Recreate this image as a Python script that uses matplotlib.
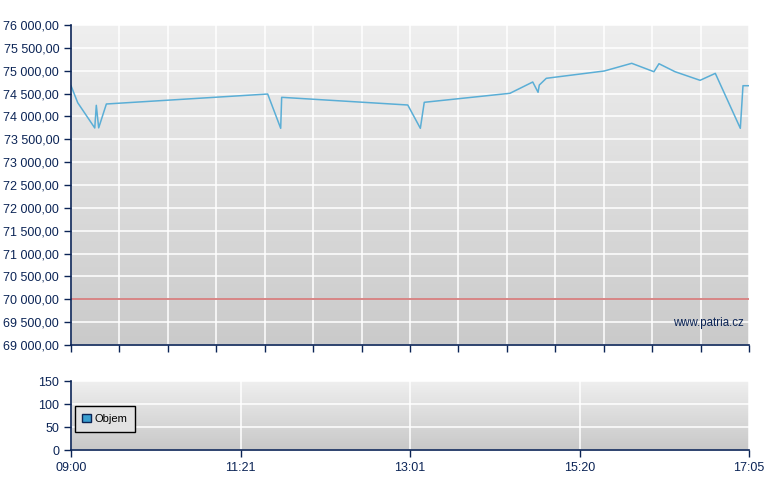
import numpy as np
import matplotlib
matplotlib.use("Agg")
import matplotlib.pyplot as plt
from matplotlib.patches import Patch
from matplotlib.ticker import FuncFormatter

# minutes since 09:00 on the chart's (index-like) time scale, 0..485
t = [0, 4.8, 17.0, 18.1, 19.8, 25.3, 140.7, 150.0, 150.7, 240.9, 249.9, 252.7,
     314.0, 330.3, 334.1, 335.0, 340.0, 381.5, 401.1, 417.0, 420.6, 432.1,
     450.0, 460.9, 478.8, 480.7, 485]
price = [74672, 74300, 73747, 74243, 73750, 74272, 74490, 73740, 74418, 74250,
         73740, 74309, 74506, 74753, 74528, 74687, 74834, 74994, 75162, 74978,
         75153, 74978, 74790, 74942, 73740, 74672, 74672]
ref_level = 70000
vol_ticks_pos = [0, 121.25, 242.5, 363.75, 485]
vol_tick_labels = ["09:00", "11:21", "13:01", "15:20", "17:05"]

navy = "#0b2456"
plt.rcParams['font.family'] = ['Liberation Sans', 'DejaVu Sans']

fig = plt.figure(figsize=(7.8, 4.9), dpi=100)
ax = fig.add_axes([71 / 780, 1 - 345 / 490, 678 / 780, 320 / 490])
axv = fig.add_axes([71 / 780, 1 - 450 / 490, 678 / 780, 69 / 490])


def style(a, top, bottom):
    grad = np.linspace(0, 1, 256).reshape(-1, 1)
    cmap = matplotlib.colors.LinearSegmentedColormap.from_list("g", [top, bottom])
    a.imshow(grad, aspect="auto", cmap=cmap, extent=[0, 1, 0, 1],
             transform=a.transAxes, zorder=0)
    for s in ["top", "right"]:
        a.spines[s].set_visible(False)
    for s in ["left", "bottom"]:
        a.spines[s].set_color(navy)
        a.spines[s].set_linewidth(1.2)
        a.spines[s].set_zorder(5)
    a.tick_params(colors=navy, labelcolor=navy, labelsize=9, length=5, width=1)
    a.grid(True, color="white", linewidth=1.1)
    a.set_axisbelow(True)


style(ax, "#efefef", "#cacaca")
ax.axhline(ref_level, color="#d47c7c", linewidth=1.3, zorder=3)
ax.plot(t, price, color="#5aaed6", linewidth=1.1, zorder=4)
ax.set_xlim(0, 485)
ax.set_ylim(69000, 76000)
ax.set_yticks(np.arange(69000, 76001, 500))
ax.yaxis.set_major_formatter(FuncFormatter(
    lambda v, p: f"{v:,.2f}".replace(",", " ").replace(".", ",")))
ax.set_xticks(np.linspace(0, 485, 15))
ax.set_xticklabels([])
ax.text(0.992, 0.068, "www.patria.cz", transform=ax.transAxes, ha="right",
        va="center", fontsize=8.3, color=navy, zorder=4)

style(axv, "#efefef", "#c8c8c8")
axv.set_xlim(0, 485)
axv.set_ylim(0, 150)
axv.set_yticks([0, 50, 100, 150])
axv.set_xticks(vol_ticks_pos)
axv.set_xticklabels(vol_tick_labels)
leg = axv.legend(handles=[Patch(facecolor="#3a9fd0", edgecolor=navy, label="Objem")],
                 loc="center left", bbox_to_anchor=(-0.003, 0.45), fontsize=8,
                 frameon=True, fancybox=False, handlelength=0.8, handleheight=0.8,
                 handletextpad=0.3, borderpad=0.7)
leg.get_frame().set_edgecolor("black")
leg.get_frame().set_facecolor("#e2e2e2")
leg.get_frame().set_linewidth(1)
leg.get_frame().set_alpha(1)

fig.savefig("out.png", dpi=100)
